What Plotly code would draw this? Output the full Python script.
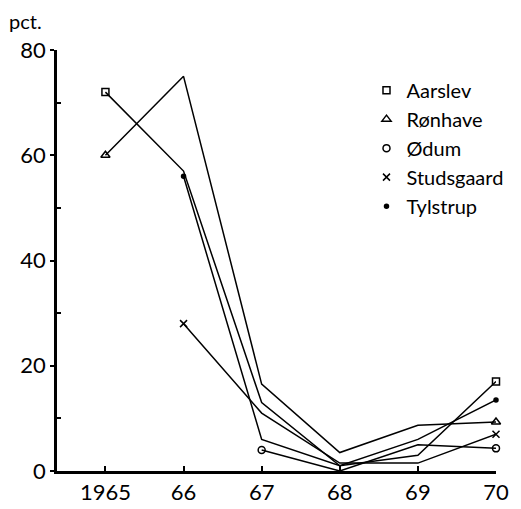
import plotly.graph_objects as go

years = [1965, 1966, 1967, 1968, 1969, 1970]
tick_labels = ["1965", "66", "67", "68", "69", "70"]

aarslev = [72, 57, 13, 1, 3, 17]
ronhave = [60, 75, 16.5, 3.5, 8.7, 9.3]
odum = [None, None, 4, 0, 5, 4.3]
studsgaard = [None, 28, 11, 1.5, 1.5, 7]
tylstrup = [None, 56, 6, 1, 6, 13.5]

series = [
    ("Aarslev", aarslev, "square-open", 7),
    ("Rønhave", ronhave, "triangle-up-open", 8),
    ("Ødum", odum, "circle-open", 7),
    ("Studsgaard", studsgaard, "x-thin-open", 7),
    ("Tylstrup", tylstrup, "circle", 4),
]

FONT = "Lato, 'Open Sans', sans-serif"

fig = go.Figure()
for name, vals, sym, size in series:
    fig.add_trace(go.Scatter(
        x=years, y=vals, mode="lines", connectgaps=False,
        line=dict(color="black", width=1.5), showlegend=False, hoverinfo="skip"))
    idx = [i for i, v in enumerate(vals) if v is not None]
    ends = [idx[0], idx[-1]]
    fig.add_trace(go.Scatter(
        x=[years[i] for i in ends], y=[vals[i] for i in ends], mode="markers",
        name=name,
        marker=dict(symbol=sym, size=size, color="black",
                    line=dict(color="black", width=1.5)),
        cliponaxis=False))

fig.update_layout(
    width=521, height=509,
    margin=dict(l=49, r=33, t=42, b=37),
    paper_bgcolor="white", plot_bgcolor="white",
    font=dict(family=FONT, size=22, color="black"),
    showlegend=True,
    legend=dict(x=0.705, y=0.951, xanchor="left", yanchor="top",
                font=dict(family=FONT, size=20, color="black"),
                bgcolor="rgba(0,0,0,0)", itemwidth=30, tracegroupgap=0),
    xaxis=dict(range=[1964.38, 1970], tickvals=years, ticktext=tick_labels,
               showgrid=False, zeroline=False, showline=True,
               linecolor="black", linewidth=2.5,
               ticks="inside", ticklen=5, tickwidth=2, tickcolor="black",
               tickfont=dict(family=FONT, size=22)),
    yaxis=dict(range=[0, 80], tickvals=[0, 20, 40, 60, 80],
               showgrid=False, zeroline=False, showline=True,
               linecolor="black", linewidth=2.5,
               ticks="outside", ticklen=4, tickwidth=2, tickcolor="black",
               tickfont=dict(family=FONT, size=22),
               minor=dict(tickvals=[10, 30, 50, 70], ticks="inside",
                          ticklen=4, tickwidth=1.5, tickcolor="black")),
    annotations=[dict(text="pct.", xref="paper", yref="paper",
                      x=-0.112, y=1.1, xanchor="left", yanchor="top",
                      borderpad=0,
                      showarrow=False, font=dict(family=FONT, size=20))],
)

fig.write_html("out.html")
